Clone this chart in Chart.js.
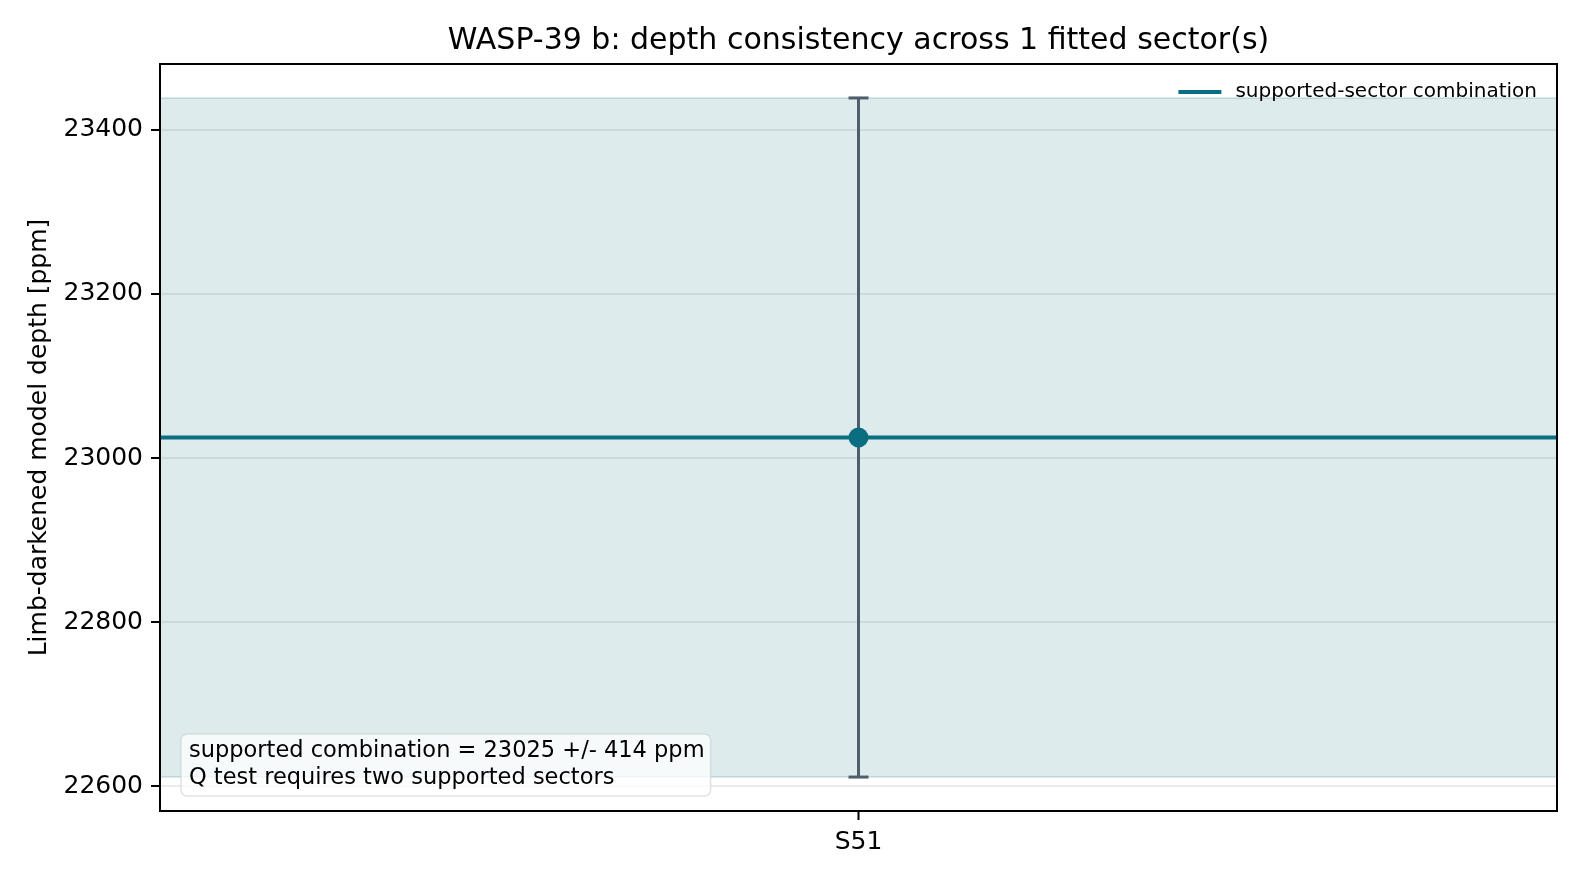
<!DOCTYPE html>
<html>
<head>
<meta charset="utf-8">
<script src="https://cdn.jsdelivr.net/npm/chart.js@4.4.1/dist/chart.umd.min.js"></script>
<style>
  html, body { margin: 0; padding: 0; background: #fff; }
  #wrap { width: 1584px; height: 882px; position: relative; }
</style>
</head>
<body>
<div id="wrap"><canvas id="grafico"></canvas></div>
<script>
// dati
var settori = ['S51'];
var profonditaSettori = [23025];
var erroriSettori = [414];
var profonditaCombinata = 23025;
var erroreCombinato = 414;
var tickY = [22600, 22800, 23000, 23200, 23400];
var titolo = 'WASP-39 b: depth consistency across 1 fitted sector(s)';
var testoBox = ['supported combination = 23025 +/- 414 ppm', 'Q test requires two supported sectors'];

var teal = 'rgb(11, 110, 128)';
var grigioErr = 'rgb(80, 94, 107)';

// margine del 5% come matplotlib
var basso = profonditaCombinata - erroreCombinato;
var alto = profonditaCombinata + erroreCombinato;
var margine = (alto - basso) * 0.05;

var puntiSettori = [];
var barreErrore = [];
for (var i = 0; i < settori.length; i++) {
    puntiSettori.push({x: i, y: profonditaSettori[i]});
    barreErrore.push({x: i, y: profonditaSettori[i] - erroriSettori[i]});
    barreErrore.push({x: i, y: profonditaSettori[i] + erroriSettori[i]});
}
var xMin = -0.5, xMax = settori.length - 0.5;

var cornice = {
    id: 'cornice',
    afterDraw: function(chart) {
        var ctx = chart.ctx;
        var a = chart.chartArea;
        ctx.save();
        ctx.strokeStyle = '#000';
        ctx.lineWidth = 2;
        ctx.strokeRect(a.left, a.top, a.right - a.left, a.bottom - a.top);

        // titolo centrato sull'area del grafico
        ctx.font = '30px "DejaVu Sans"';
        ctx.fillStyle = '#000';
        ctx.textAlign = 'center';
        ctx.textBaseline = 'middle';
        ctx.fillText(titolo, (a.left + a.right) / 2, 41);

        // legenda dentro l'area in alto a destra
        var ds = chart.data.datasets[2];
        ctx.font = '20px "DejaVu Sans"';
        ctx.textAlign = 'left';
        var w = ctx.measureText(ds.label).width;
        var xt = a.right - 20 - w;
        var yt = a.top + 28;
        ctx.strokeStyle = ds.borderColor;
        ctx.lineWidth = 4;
        ctx.beginPath();
        ctx.moveTo(xt - 57, yt);
        ctx.lineTo(xt - 14, yt);
        ctx.stroke();
        ctx.fillText(ds.label, xt, yt);

        // riquadro di testo in basso a sinistra
        ctx.font = '22.5px "DejaVu Sans"';
        var larg = 0;
        for (var k = 0; k < testoBox.length; k++) {
            larg = Math.max(larg, ctx.measureText(testoBox[k]).width);
        }
        var bx = a.left + 21, by = a.bottom - 77;
        var bw = larg + 14, bh = 62;
        ctx.beginPath();
        ctx.roundRect(bx, by, bw, bh, 6);
        ctx.fillStyle = 'rgba(255,255,255,0.75)';
        ctx.fill();
        ctx.strokeStyle = 'rgba(200,208,212,0.6)';
        ctx.lineWidth = 1.5;
        ctx.stroke();
        ctx.fillStyle = '#000';
        for (var k = 0; k < testoBox.length; k++) {
            ctx.fillText(testoBox[k], bx + 8, by + 17 + k * 27);
        }
        ctx.restore();
    }
};

Chart.defaults.font.family = '"DejaVu Sans", sans-serif';
Chart.defaults.color = '#000';

var ctx = document.getElementById('grafico');
var chart = new Chart(ctx, {
    type: 'line',
    data: {
        datasets: [{
            label: 'sector',
            data: puntiSettori,
            showLine: false,
            pointRadius: 10,
            pointBackgroundColor: teal,
            pointBorderColor: teal,
            pointBorderWidth: 0
        }, {
            label: 'errore',
            data: barreErrore,
            borderColor: grigioErr,
            borderWidth: 3,
            pointStyle: 'line',
            pointRadius: 10,
            pointBorderWidth: 3,
            pointBorderColor: grigioErr
        }, {
            label: 'supported-sector combination',
            data: [{x: xMin, y: profonditaCombinata}, {x: xMax, y: profonditaCombinata}],
            borderColor: teal,
            borderWidth: 4,
            pointRadius: 0
        }, {
            label: 'banda alta',
            data: [{x: xMin, y: alto}, {x: xMax, y: alto}],
            borderColor: 'rgba(11,110,128,0.2)',
            borderWidth: 1.5,
            pointRadius: 0,
            backgroundColor: 'rgba(11,110,128,0.14)',
            fill: '+1'
        }, {
            label: 'banda bassa',
            data: [{x: xMin, y: basso}, {x: xMax, y: basso}],
            borderColor: 'rgba(11,110,128,0.2)',
            borderWidth: 1.5,
            pointRadius: 0
        }]
    },
    plugins: [cornice],
    options: {
        responsive: true,
        maintainAspectRatio: false,
        devicePixelRatio: 1,
        animation: false,
        layout: { padding: { left: 0, right: 27, top: 64, bottom: 0 } },
        plugins: {
            legend: { display: false },
            tooltip: { enabled: false },
            title: { display: false }
        },
        scales: {
            x: {
                type: 'linear',
                min: xMin,
                max: xMax,
                afterBuildTicks: function(scale) {
                    scale.ticks = settori.map(function(s, i) { return {value: i}; });
                },
                afterFit: function(scale) { scale.height = 71; },
                ticks: {
                    font: { size: 25 },
                    color: '#000',
                    padding: 7,
                    maxRotation: 0,
                    callback: function(v) { return settori[v]; }
                },
                grid: {
                    drawOnChartArea: false,
                    tickLength: 9,
                    tickColor: '#000',
                    tickWidth: 2
                },
                border: { color: '#000', width: 2 }
            },
            y: {
                min: basso - margine,
                max: alto + margine,
                afterBuildTicks: function(scale) {
                    scale.ticks = tickY.map(function(v) { return {value: v}; });
                },
                afterFit: function(scale) { scale.width = 160; },
                ticks: {
                    font: { size: 25 },
                    color: '#000',
                    padding: 8,
                    callback: function(v) { return String(v); }
                },
                grid: {
                    color: 'rgba(0,0,0,0.08)',
                    lineWidth: 2,
                    tickLength: 9,
                    tickColor: '#000',
                    tickWidth: 2
                },
                border: { color: '#000', width: 2 },
                title: {
                    display: true,
                    text: 'Limb-darkened model depth [ppm]',
                    font: { size: 25 },
                    color: '#000',
                    padding: { top: 24, bottom: 0 }
                }
            }
        }
    }
});
</script>
</body>
</html>
